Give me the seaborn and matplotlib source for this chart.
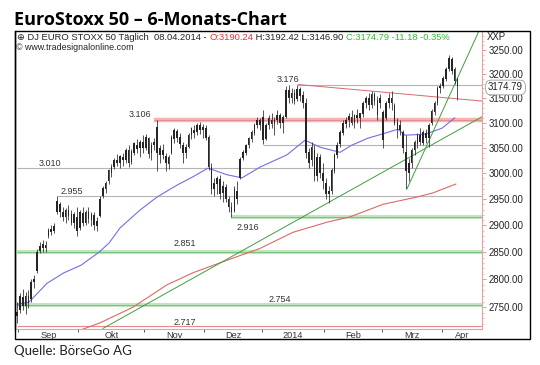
import numpy as np
import pandas as pd
import matplotlib
matplotlib.use("Agg")
import matplotlib.pyplot as plt
import seaborn as sns
from matplotlib.ticker import FixedLocator, NullFormatter, FuncFormatter
from matplotlib.patches import Rectangle

sns.set_theme(style="white")
plt.rcParams['font.family'] = ['Liberation Sans', 'DejaVu Sans']

# ---------------- data ----------------
opens = [2735, 2745, 2768, 2752, 2770, 2765, 2795, 2815, 2852, 2858, 2862, 2880, 2888, 2890, 2925, 2940, 2925, 2915, 2928, 2920,
         2905, 2915, 2895, 2922, 2905, 2925, 2910, 2918, 2898, 2918, 2955, 2970, 2985, 3000, 3012, 3025, 3020, 3030, 3025, 3045,
         3022, 3040, 3055, 3050, 3060, 3050, 3068, 3040, 3055, 3090, 3035, 3045, 3032, 3018, 3040, 3068, 3082, 3070, 3055, 3040,
         3052, 3075, 3085, 3082, 3095, 3085, 3088, 3070, 3012, 2970, 2980, 2988, 2962, 2972, 2950, 2935, 2928, 2965, 2990, 3030,
         3040, 3055, 3068, 3080, 3095, 3105, 3110, 3068, 3095, 3105, 3098, 3105, 3115, 3100, 3112, 3165, 3150, 3160, 3148, 3168,
         3155, 3140, 3040, 3025, 3045, 2995, 3030, 3000, 2980, 2960, 2965, 3005, 3035, 3058, 3080, 3098, 3105, 3110, 3100, 3115,
         3110, 3118, 3140, 3150, 3135, 3158, 3145, 3140, 3120, 3110, 3140, 3150, 3135, 3100, 3085, 3080, 3040, 3000, 3020, 3045,
         3058, 3075, 3060, 3078, 3070, 3100, 3122, 3140, 3170, 3175, 3190, 3210, 3230, 3210, 3190.24]
highs = [2760, 2775, 2782, 2778, 2780, 2800, 2808, 2855, 2868, 2872, 2870, 2895, 2900, 2905, 2955, 2945, 2935, 2932, 2938, 2930,
         2925, 2935, 2930, 2935, 2930, 2935, 2925, 2925, 2915, 2955, 2975, 2985, 3008, 3018, 3030, 3038, 3035, 3040, 3050, 3055,
         3048, 3062, 3068, 3065, 3075, 3078, 3072, 3062, 3070, 3106, 3055, 3058, 3040, 3035, 3075, 3090, 3088, 3080, 3062, 3058,
         3080, 3092, 3095, 3100, 3102, 3098, 3095, 3076, 3020, 2990, 2995, 2997, 2985, 2980, 2955, 2945, 2975, 2985, 3032, 3045,
         3058, 3072, 3085, 3100, 3112, 3110, 3125, 3100, 3115, 3120, 3112, 3125, 3120, 3115, 3175, 3176, 3170, 3168, 3176, 3172,
         3165, 3150, 3050, 3062, 3055, 3040, 3038, 3020, 2990, 2975, 3010, 3040, 3062, 3085, 3105, 3112, 3120, 3125, 3118, 3128,
         3120, 3145, 3155, 3160, 3165, 3162, 3155, 3158, 3125, 3145, 3160, 3165, 3140, 3110, 3105, 3085, 3075, 3030, 3050, 3065,
         3080, 3090, 3085, 3088, 3100, 3128, 3145, 3175, 3182, 3195, 3215, 3240, 3235, 3215, 3192.42]
lows = [2722, 2740, 2745, 2738, 2748, 2760, 2785, 2812, 2848, 2850, 2850, 2876, 2882, 2885, 2922, 2915, 2908, 2905, 2910, 2900,
        2895, 2880, 2892, 2898, 2900, 2905, 2898, 2892, 2890, 2915, 2952, 2962, 2980, 2992, 3008, 3015, 3010, 3015, 3020, 3012,
        3018, 3035, 3040, 3032, 3040, 3045, 3030, 3026, 3045, 3005, 3020, 3028, 3005, 3008, 3038, 3060, 3062, 3050, 3020, 3030,
        3050, 3068, 3070, 3075, 3078, 3070, 3065, 3007, 2960, 2955, 2960, 2950, 2945, 2945, 2925, 2916, 2925, 2940, 2988, 3025,
        3035, 3050, 3062, 3075, 3090, 3085, 3058, 3065, 3088, 3090, 3075, 3098, 3090, 3080, 3110, 3140, 3140, 3138, 3145, 3145,
        3130, 3030, 3010, 3015, 2985, 2985, 2990, 2970, 2950, 2943, 2960, 3000, 3030, 3052, 3075, 3090, 3092, 3095, 3090, 3100,
        3090, 3112, 3130, 3125, 3130, 3135, 3106, 3130, 3050, 3105, 3130, 3125, 3095, 3070, 3075, 3040, 2970, 2985, 3010, 3035,
        3050, 3055, 3055, 3060, 3052, 3095, 3115, 3135, 3160, 3170, 3185, 3205, 3200, 3180, 3146.90]
closes = [2740, 2770, 2752, 2770, 2758, 2795, 2800, 2850, 2860, 2865, 2858, 2890, 2892, 2898, 2945, 2925, 2915, 2928, 2918, 2905,
          2920, 2890, 2925, 2905, 2925, 2912, 2920, 2900, 2908, 2950, 2970, 2980, 3005, 3012, 3025, 3020, 3032, 3025, 3045, 3020,
          3042, 3058, 3048, 3060, 3050, 3070, 3038, 3055, 3060, 3040, 3048, 3035, 3020, 3030, 3070, 3085, 3070, 3058, 3040, 3050,
          3075, 3088, 3080, 3095, 3085, 3090, 3070, 3012, 2970, 2980, 2990, 2960, 2975, 2950, 2935, 2925, 2968, 2950, 3028, 3040,
          3055, 3068, 3080, 3095, 3105, 3095, 3065, 3095, 3108, 3098, 3105, 3115, 3100, 3110, 3165, 3150, 3160, 3145, 3168, 3155,
          3140, 3040, 3020, 3050, 2995, 3030, 3000, 2985, 2960, 2965, 3005, 3035, 3055, 3080, 3098, 3105, 3112, 3100, 3115, 3110,
          3118, 3140, 3150, 3135, 3158, 3145, 3115, 3150, 3065, 3140, 3150, 3140, 3100, 3085, 3095, 3050, 3005, 3020, 3045, 3060,
          3075, 3062, 3080, 3070, 3095, 3122, 3140, 3170, 3175, 3190, 3210, 3232, 3205, 3185, 3174.79]

holidays = ["2013-12-25", "2013-12-26", "2014-01-01"]
dates = pd.bdate_range("2013-08-30", "2014-04-08")
dates = dates[~dates.isin(pd.to_datetime(holidays))]
days = np.arange(len(dates))

month_labels = ["Sep", "Okt", "Nov", "Dez", "2014", "Feb", "Mrz", "Apr"]

# 50-day and 200-day moving averages (by trading-day number)
ma50_day = [0, 4.2, 10.5, 16.4, 22.4, 28.7, 32.2, 36, 43, 49, 56, 61.5, 66.8, 73.4, 78.7, 85, 94.4, 100.7, 106, 113,
            117, 122.7, 128.7, 133.2, 135.7, 142.7, 148.6, 153.1]
ma50_val = [2755, 2759, 2793, 2812, 2826, 2850, 2867, 2895, 2929, 2954, 2977, 2993, 3010, 2997, 2991, 3012, 3036, 3065, 3051, 3041,
            3055, 3069, 3079, 3087, 3075, 3077, 3089, 3110]
ma200_day = [22, 29, 40.6, 52.4, 61.5, 73.4, 85, 96.5, 108.4, 116.4, 128, 139.9, 145.5, 153.5]
ma200_val = [2709, 2722, 2750, 2790, 2812, 2835, 2857, 2887, 2906, 2916, 2940, 2954, 2962, 2979]

# horizontal levels: value, first day, colour kind
level_vals = [3176, 3106, 3056, 3010, 2955, 2916, 2851, 2754, 2717]
level_start = [98, 48, 86, 0, 14, 75, 0, 0, 0]
level_kind = ["gray", "red", "gray", "gray", "gray", "green", "green", "green", "redthin"]
level_text = ["3.176", "3.106", None, "3.010", "2.955", "2.916", "2.851", "2.754", "2.717"]

# trend lines (day, value) pairs
trend_red = ([98.3, 162.6], [3178, 3144])
trend_green_long = ([30, 162.6], [2712, 3112])
trend_green_steep = ([136.4, 161.5], [2970, 3290])

# ---------------- figure ----------------
W, H = 540, 365
fig = plt.figure(figsize=(W / 100, H / 100), dpi=100)
fig.patch.set_facecolor("white")
PL, PR, PT, PB = 15, 482, 31, 329
ax = fig.add_axes([PL / W, 1 - PB / H, (PR - PL) / W, (PB - PT) / H])
ax.set_facecolor("white")
ax.set_yscale("log")
XMAX = 162.6
ax.set_xlim(-0.7, XMAX)
ax.set_ylim(2711.2, 3290.4)

def fx(x):
    return x / W

def fy(y):
    return 1 - y / H

# level lines
for v, s, k in zip(level_vals, level_start, level_kind):
    if k == "gray":
        ax.hlines(v, s, XMAX, color="#b4b4b4", lw=0.8, zorder=1)
    elif k == "red":
        ax.hlines(v, s, XMAX, color="#f5b3b3", lw=3.2, zorder=1)
        ax.hlines(v, s, XMAX, color="#e58080", lw=0.5, zorder=1)
    elif k == "green":
        ax.hlines(v, s, XMAX, color="#c2e4c2", lw=3.0, zorder=1)
        ax.hlines(v, s, XMAX, color="#6fbb6f", lw=0.6, zorder=1)
    else:
        ax.hlines(v, s, XMAX, color="#e58a8a", lw=0.8, zorder=1)

# moving averages and trend lines
sns.lineplot(x=ma200_day, y=ma200_val, ax=ax, color="#e06666", lw=0.8, sort=False, estimator=None, zorder=2)
sns.lineplot(x=ma50_day, y=ma50_val, ax=ax, color="#6f6fe8", lw=0.8, sort=False, estimator=None, zorder=2)
sns.lineplot(x=trend_red[0], y=trend_red[1], ax=ax, color="#d46a6a", lw=0.7, estimator=None, zorder=2)
sns.lineplot(x=trend_green_long[0], y=trend_green_long[1], ax=ax, color="#3f9f3f", lw=0.7, estimator=None, zorder=2)
sns.lineplot(x=trend_green_steep[0], y=trend_green_steep[1], ax=ax, color="#3f9f3f", lw=0.7, estimator=None, zorder=2)

# candlesticks
o = np.array(opens); h = np.array(highs); l = np.array(lows); c = np.array(closes)
ax.vlines(days, l, h, color="#262626", lw=0.55, zorder=3)
ax.bar(days, np.abs(c - o) + 0.8, bottom=np.minimum(o, c), width=0.58, color="#262626", lw=0, zorder=3)

# level labels
lab_pos = {"3.176": (94.8, 3188), "3.106": (43, 3116), "3.010": (11.5, 3019), "2.955": (19, 2964),
           "2.916": (80.8, 2896), "2.851": (58.7, 2866), "2.754": (92, 2763), "2.717": (58.7, 2722)}
for t in level_text:
    if t:
        x, y = lab_pos[t]
        ax.text(x, y, t, fontsize=6.5, color="#333333", ha="center", va="center", zorder=4)

# axes styling
ax.spines["top"].set_visible(False)
ax.spines["left"].set_color("black"); ax.spines["left"].set_linewidth(1)
ax.spines["right"].set_color("#e8a0a0"); ax.spines["right"].set_linewidth(0.8)
ax.spines["bottom"].set_color("#e8a0a0"); ax.spines["bottom"].set_linewidth(0.8)

ax.yaxis.tick_right()
yt = list(range(2750, 3251, 50))
ax.yaxis.set_major_locator(FixedLocator(yt))
ax.yaxis.set_major_formatter(FuncFormatter(lambda v, p: f"{v:.2f}"))
ax.yaxis.set_minor_locator(FixedLocator([v for v in range(2720, 3290, 10) if v % 50]))
ax.yaxis.set_minor_formatter(NullFormatter())
ax.tick_params(axis="y", which="major", direction="out", length=3, width=0.6, color="#e08a8a",
               labelsize=6.9, labelcolor="#222222", pad=1.5, right=True, left=False)
ax.tick_params(axis="y", which="minor", direction="out", length=1.5, width=0.5, color="#e8a0a0", right=True, left=False)

# month ticks from dates
mon = dates.to_period("M")
starts = [i for i in range(1, len(dates)) if mon[i] != mon[i - 1]]
bounds = [s - 0.5 for s in starts]
edges = bounds + [XMAX]
centers = [(a + b) / 2 for a, b in zip(edges[:-1], edges[1:])]
ax.xaxis.set_minor_locator(FixedLocator(bounds))
ax.xaxis.set_major_locator(FixedLocator(centers))
ax.set_xticklabels(month_labels)
ax.tick_params(axis="x", which="major", length=0, labelsize=6.6, labelcolor="#333333", pad=1.5)
ax.tick_params(axis="x", which="minor", direction="out", length=2.5, width=0.6, color="#333333", bottom=True)
ax.set_xlabel(""); ax.set_ylabel("")
ax.grid(False)

# outer frame
fig.add_artist(Rectangle((fx(15), fy(339)), (530 - 15) / W, (339 - 31) / H, transform=fig.transFigure,
                         fill=False, ec="black", lw=1.0))

# title and source
fig.text(fx(14), fy(25), "EuroStoxx 50 \u2013 6-Monats-Chart", fontsize=13, fontweight="bold",
         family=["Open Sans", "DejaVu Sans"], color="black", va="baseline")
fig.text(fx(14), fy(355), "Quelle: BörseGo AG", fontsize=9.5, family=["Lato", "DejaVu Sans"],
         color="#222222", va="baseline")

# header line with coloured segments
fig.canvas.draw()
renderer = fig.canvas.get_renderer()
segments = [("\u2295 DJ EURO STOXX 50 Täglich  08.04.2014 - ", "#222222"),
            ("O:3190.24", "#e53030"),
            (" H:3192.42 L:3146.90 ", "#222222"),
            ("C:3174.79 -11.18 -0.35%", "#33bb33")]
xp = 17
for txt, col in segments:
    t = fig.text(fx(xp), fy(40.5), txt, fontsize=6.75, color=col, va="baseline", family=["Liberation Sans", "DejaVu Sans"])
    bb = t.get_window_extent(renderer=renderer)
    xp += bb.width
fig.text(fx(16), fy(49.5), "\u00a9 www.tradesignalonline.com", fontsize=6.4, color="#222222", va="baseline")

# right side labels
fig.text(fx(487), fy(37), "XXP", fontsize=6.9, color="#222222", va="center")
fig.text(fx(488), fy(87.5), "3174.79", fontsize=6.9, color="#222222", va="center",
         bbox=dict(boxstyle="round,pad=0.25,rounding_size=0.6", fc="white", ec="#9a9a9a", lw=0.6))

fig.savefig("out.png", dpi=100, facecolor="white")
